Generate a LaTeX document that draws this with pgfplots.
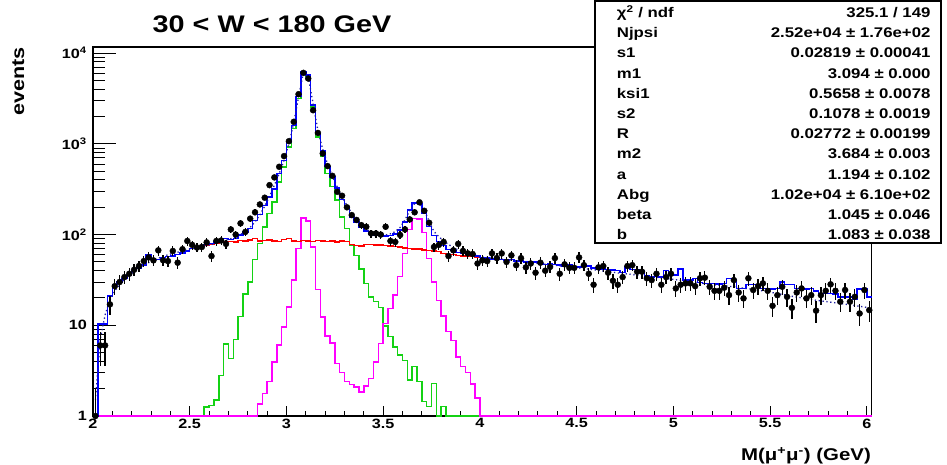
\documentclass[border=0pt]{standalone}
\usepackage{fontspec}
\setmainfont{Liberation Sans}[FakeStretch=1.2]
\usepackage{pgfplots}
\usepackage{pgfplotstable}
\pgfplotsset{compat=1.18}
\definecolor{rgreen}{RGB}{20,210,20}
\definecolor{rmag}{RGB}{255,0,255}
\definecolor{rred}{RGB}{255,0,0}
\definecolor{rblue}{RGB}{0,0,255}
\definecolor{rfit}{RGB}{30,30,160}

\pgfplotstableread{
e b r g m
2.000 1 1 1 1
2.025 10.3 10.3 1 1
2.050 10.3 10.3 1 1
2.075 21 21 1 1
2.100 28 28 1 1
2.125 30 30 1 1
2.150 33 33 1 1
2.175 36 36 1 1
2.200 40 40 1 1
2.225 43 43 1 1
2.250 46 46 1 1
2.275 60 60 1 1
2.300 53 53 1 1
2.325 53 53 1 1
2.350 56 56 1 1
2.375 57 57 1 1
2.400 58 58 1 1
2.425 60 60 1 1
2.450 63 63 1 1
2.475 66 66 1 1
2.500 70 70 1 1
2.525 72 72 1 1
2.550 74 74 1 1
2.575 78 77 1.25 1
2.600 80 79 1.3 1
2.625 82.5 81 1.5 1
2.650 85 82 2.8 1
2.675 90 84 6.2 1
2.700 88 84 4.3 1
2.725 90 83 7.0 1
2.750 98.5 86 12.5 1
2.775 107 85 22 1
2.800 117 87 30 1
2.825 143 90 53 1
2.850 166 85 80 1.36
2.875 210 86 122 1.78
2.900 260 87 171 2.39
2.925 317 85 228 3.96
2.950 470 84 380 6.05
2.975 655 88 557 9.6
3.000 1032 90 926 16
3.025 1590 85 1474 31.4
3.050 3317 84 3163 70
3.075 6229 86 5990 153
3.100 5776 85 5550 141
3.125 2697 84 2540 73
3.150 1301 86 1190 24.9
3.175 830 85 733 12.4
3.200 562 84 470 7.6
3.225 431 85 340 6.4
3.250 327 83 240 3.8
3.275 245 85 157 3.0
3.300 203 84 117 2.39
3.325 157 78 76.5 2.23
3.350 137 76 59 2.1
3.375 119 75 42 1.85
3.400 109 78 29 2.14
3.425 101 78 20.6 2.6
3.450 99 77 18.2 3.96
3.475 99 77 15.7 6.3
3.500 96 76 9.8 10.5
3.525 98 75 7.5 15.3
3.550 101 74 5.8 21.5
3.575 112 73 4.7 34.4
3.600 137 71 4.1 62
3.625 187 70 2.5 114
3.650 223 69 3.5 150
3.675 219 69 2.4 148
3.700 174 68 1.45 105
3.725 123 67 1.28 54.5
3.750 98 66 2.29 30
3.775 84 65 1 18.7
3.800 76 62 1.27 12.6
3.825 68.5 60 1 8.5
3.850 67 60 1 6.8
3.875 63.5 59 1 4.5
3.900 61.5 58 1 3.5
3.925 61 58 1 3.0
3.950 59 57 1 2.25
3.975 58 56.5 1 1.57
4.000 56 56 1 1
4.025 55 55 1 1
4.050 54 54 1 1
4.075 56 56 1 1
4.100 53 53 1 1
4.125 52 52 1 1
4.150 53 53 1 1
4.175 51 51 1 1
4.200 51 51 1 1
4.225 50 50 1 1
4.250 49 49 1 1
4.275 50 50 1 1
4.300 48 48 1 1
4.325 47 47 1 1
4.350 48 48 1 1
4.375 47 47 1 1
4.400 46 46 1 1
4.425 45 45 1 1
4.450 46 46 1 1
4.475 44 44 1 1
4.500 44 44 1 1
4.525 47 47 1 1
4.550 45 45 1 1
4.575 43 43 1 1
4.600 42 42 1 1
4.625 42 42 1 1
4.650 41 41 1 1
4.675 40.5 40.5 1 1
4.700 40 40 1 1
4.725 38 38 1 1
4.750 44 44 1 1
4.775 41 41 1 1
4.800 41 41 1 1
4.825 40 40 1 1
4.850 35 35 1 1
4.875 34 34 1 1
4.900 34.5 34.5 1 1
4.925 34 34 1 1
4.950 40 40 1 1
4.975 36 36 1 1
5.000 36 36 1 1
5.025 42 42 1 1
5.050 31.5 31.5 1 1
5.075 31.5 31.5 1 1
5.100 33 33 1 1
5.125 29.5 29.5 1 1
5.150 29 29 1 1
5.175 29 29 1 1
5.200 29 29 1 1
5.225 28.5 28.5 1 1
5.250 29 29 1 1
5.275 33 33 1 1
5.300 32 32 1 1
5.325 25.5 25.5 1 1
5.350 25.5 25.5 1 1
5.375 28 28 1 1
5.400 28 28 1 1
5.425 28 28 1 1
5.450 25.5 25.5 1 1
5.475 25.5 25.5 1 1
5.500 25 25 1 1
5.525 25.5 25.5 1 1
5.550 30 30 1 1
5.575 28 28 1 1
5.600 28 28 1 1
5.625 25.5 25.5 1 1
5.650 25.5 25.5 1 1
5.675 25 25 1 1
5.700 25.5 25.5 1 1
5.725 24 24 1 1
5.750 22.5 22.5 1 1
5.775 22.5 22.5 1 1
5.800 22.5 22.5 1 1
5.825 22 22 1 1
5.850 20.5 20.5 1 1
5.875 20.5 20.5 1 1
5.900 20.5 20.5 1 1
5.925 19.5 19.5 1 1
5.950 25 25 1 1
5.975 25 25 1 1
6.000 20.5 20.5 1 1
6.025 20.5 20.5 1 1
}\hist

\pgfplotstableread{
c d f
2.0125 1 1.5
2.0375 6 7
2.0625 6 13
2.0875 17 19
2.1125 27 24
2.1375 30 28
2.1625 34 32
2.1875 37 36
2.2125 41 39
2.2375 45 43
2.2625 51 46
2.2875 56 49
2.3125 52 52
2.3375 67 55
2.3625 52 57
2.3875 51 60
2.4125 66 62
2.4375 49 64
2.4625 69 66
2.4875 85 68
2.5125 77 70
2.5375 72 72
2.5625 73 74
2.5875 82 76
2.6125 58 78
2.6375 85 80
2.6625 86 85
2.6875 79 87
2.7125 114 90
2.7375 100 94
2.7625 133 100
2.7875 107 108
2.8125 150 120
2.8375 176 138
2.8625 215 165
2.8875 255 205
2.9125 351 265
2.9375 427 350
2.9625 559 470
2.9875 733 660
3.0125 1070 1000
3.0375 1750 1700
3.0625 3530 3300
3.0875 6070 6100
3.1125 5260 5500
3.1375 2350 2800
3.1625 1320 1400
3.1875 785 870
3.2125 569 600
3.2375 444 440
3.2625 296 335
3.2875 268 262
3.3125 200 210
3.3375 164 172
3.3625 145 145
3.3875 127 127
3.4125 122 114
3.4375 103 106
3.4625 103 101
3.4875 100 99
3.5125 122 99
3.5375 85 102
3.5625 83 108
3.5875 99 120
3.6125 114 145
3.6375 147 185
3.6625 176 220
3.6875 227 220
3.7125 183 185
3.7375 135 140
3.7625 73 108
3.7875 77 95
3.8125 83 85
3.8375 58 78
3.8625 67 72
3.8875 79 68
3.9125 66 65
3.9375 62 63
3.9625 61 61
3.9875 48 59
4.0125 52 56.6
4.0375 51 55.8
4.0625 62 55.0
4.0875 55 54.3
4.1125 62 53.6
4.1375 50 52.9
4.1625 59 52.2
4.1875 46 51.5
4.2125 55 50.7
4.2375 43.5 50.0
4.2625 48 49.2
4.2875 38 48.5
4.3125 49 47.7
4.3375 40 47.1
4.3625 44 46.5
4.3875 55 45.9
4.4125 37 45.2
4.4375 47 44.6
4.4625 43 44.0
4.4875 43 43.4
4.5125 56 42.8
4.5375 46 42.2
4.5625 37 41.6
4.5875 28 41.0
4.6125 43.5 40.3
4.6375 45 39.7
4.6625 38 39.1
4.6875 31 38.5
4.7125 28 37.8
4.7375 34 37.3
4.7625 45 36.8
4.7875 46 36.3
4.8125 39 35.8
4.8375 39 35.3
4.8625 33 34.8
4.8875 31.5 34.3
4.9125 37 33.8
4.9375 28 33.3
4.9625 34 32.8
4.9875 37 32.3
5.0125 25.5 31.8
5.0375 28 31.3
5.0625 29 30.8
5.0875 29 30.3
5.1125 27 29.8
5.1375 33 29.3
5.1625 33.5 28.8
5.1875 26.6 28.4
5.2125 24 28.0
5.2375 24 27.6
5.2625 26 27.2
5.2875 21.5 26.9
5.3125 31.5 26.5
5.3375 23 26.1
5.3625 19.8 25.7
5.3875 33 25.3
5.4125 24.5 24.9
5.4375 27 24.4
5.4625 29 23.9
5.4875 24 23.4
5.5125 16.4 22.9
5.5375 21.5 22.4
5.5625 26.6 21.9
5.5875 20.6 21.4
5.6125 15.6 20.9
5.6375 23 20.5
5.6625 25.5 20.1
5.6875 19.8 19.7
5.7125 21.5 19.3
5.7375 14.5 18.9
5.7625 21.5 18.6
5.7875 24 18.3
5.8125 28.3 18.0
5.8375 24 17.7
5.8625 18.2 17.4
5.8875 24.5 17.1
5.9125 18.2 16.8
5.9375 20.6 16.5
5.9625 13.5 16.2
5.9875 24.5 15.9
6.0125 14.7 15.6
}\datatab

\newcommand{\statfont}{\fontsize{14bp}{16bp}\selectfont\bfseries}
\newcommand{\statrow}[3]{%
  \node[anchor=base west,inner sep=0pt,font=\statfont] at (616.7bp,{465bp-17.5bp-20.2bp*#1}) {#2};%
  \node[anchor=base east,inner sep=0pt,font=\statfont] at (930.7bp,{465bp-17.5bp-20.2bp*#1}) {#3};}

\begin{document}
\begin{tikzpicture}
\useasboundingbox (0,0) rectangle (947bp,465bp);
\begin{axis}[
  at={(93bp,49bp)}, anchor=south west,
  width=778.7bp, height=369bp, scale only axis,
  xmin=2, xmax=6.025, ymin=1, ymax=11700, ymode=log,
  clip=false,
  axis line style={line width=1.2bp},
  tick align=inside, xtick pos=bottom, ytick pos=left,
  xtick={2,2.5,3,3.5,4,4.5,5,5.5,6},
  xticklabels={2,2.5,3,3.5,4,4.5,5,5.5,6},
  minor x tick num=4,
  ytick={1,10,100,1000,10000},
  yticklabels={1,10,10\textsuperscript{2},10\textsuperscript{3},10\textsuperscript{4}},
  minor ytick={2,3,4,5,6,7,8,9,20,30,40,50,60,70,80,90,200,300,400,500,600,700,800,900,2000,3000,4000,5000,6000,7000,8000,9000},
  xtick style={line width=1bp,black,/pgfplots/major tick length=10bp,/pgfplots/minor tick length=5bp},
  ytick style={line width=1bp,black,/pgfplots/major tick length=23bp,/pgfplots/minor tick length=12bp},
  tick label style={font=\fontsize{13.5bp}{15bp}\selectfont\bfseries, inner sep=0pt},
  xticklabel style={yshift=-2.5bp},
  yticklabel style={xshift=-6bp},
]
\addplot[const plot mark left, draw=rgreen, line width=1.5bp, no markers] table[x=e,y=g]{\hist};
\addplot[const plot mark left, draw=rmag, line width=1.5bp, no markers] table[x=e,y=m]{\hist};
\addplot[const plot mark left, draw=rred, line width=1.5bp, no markers] table[x=e,y=r]{\hist};
\addplot[const plot mark left, draw=rblue, line width=1.5bp, no markers] table[x=e,y=b]{\hist};
\addplot[draw=rfit, line width=1.3bp, dash pattern=on 1.3bp off 2.6bp, no markers] table[x=c,y=f]{\datatab};
\addplot[only marks, mark=*, mark size=3bp, black,
  error bars/.cd, y dir=both, y explicit, error mark=none,
  error bar style={line width=1.3bp, black}]
  table[x=c, y=d, y error plus expr={sqrt(\thisrow{d})}, y error minus expr={min(sqrt(\thisrow{d}),\thisrow{d}-1)}]{\datatab};
\end{axis}
\node[anchor=base, inner sep=0pt, font=\fontsize{24bp}{28bp}\selectfont\bfseries] at (272bp,432bp) {30 < W < 180 GeV};
\node[rotate=90, anchor=base east, inner sep=0pt, font=\fontsize{18bp}{20bp}\selectfont\bfseries] at (24bp,418bp) {events};
\node[anchor=base east, inner sep=0pt, font=\fontsize{17bp}{19bp}\selectfont\bfseries] at (871bp,4.5bp) {M(μ\textsuperscript{+}μ\textsuperscript{-}) (GeV)};
\draw[line width=1.2bp, fill=white] (595bp,464bp) rectangle (941bp,222bp);
\statrow{0}{χ\textsuperscript{2} / ndf}{325.1 / 149}
\statrow{1}{Njpsi}{2.52e+04 ± 1.76e+02}
\statrow{2}{s1}{0.02819 ± 0.00041}
\statrow{3}{m1}{3.094 ± 0.000}
\statrow{4}{ksi1}{0.5658 ± 0.0078}
\statrow{5}{s2}{0.1078 ± 0.0019}
\statrow{6}{R}{0.02772 ± 0.00199}
\statrow{7}{m2}{3.684 ± 0.003}
\statrow{8}{a}{1.194 ± 0.102}
\statrow{9}{Abg}{1.02e+04 ± 6.10e+02}
\statrow{10}{beta}{1.045 ± 0.046}
\statrow{11}{b}{1.083 ± 0.038}
\end{tikzpicture}
\end{document}
